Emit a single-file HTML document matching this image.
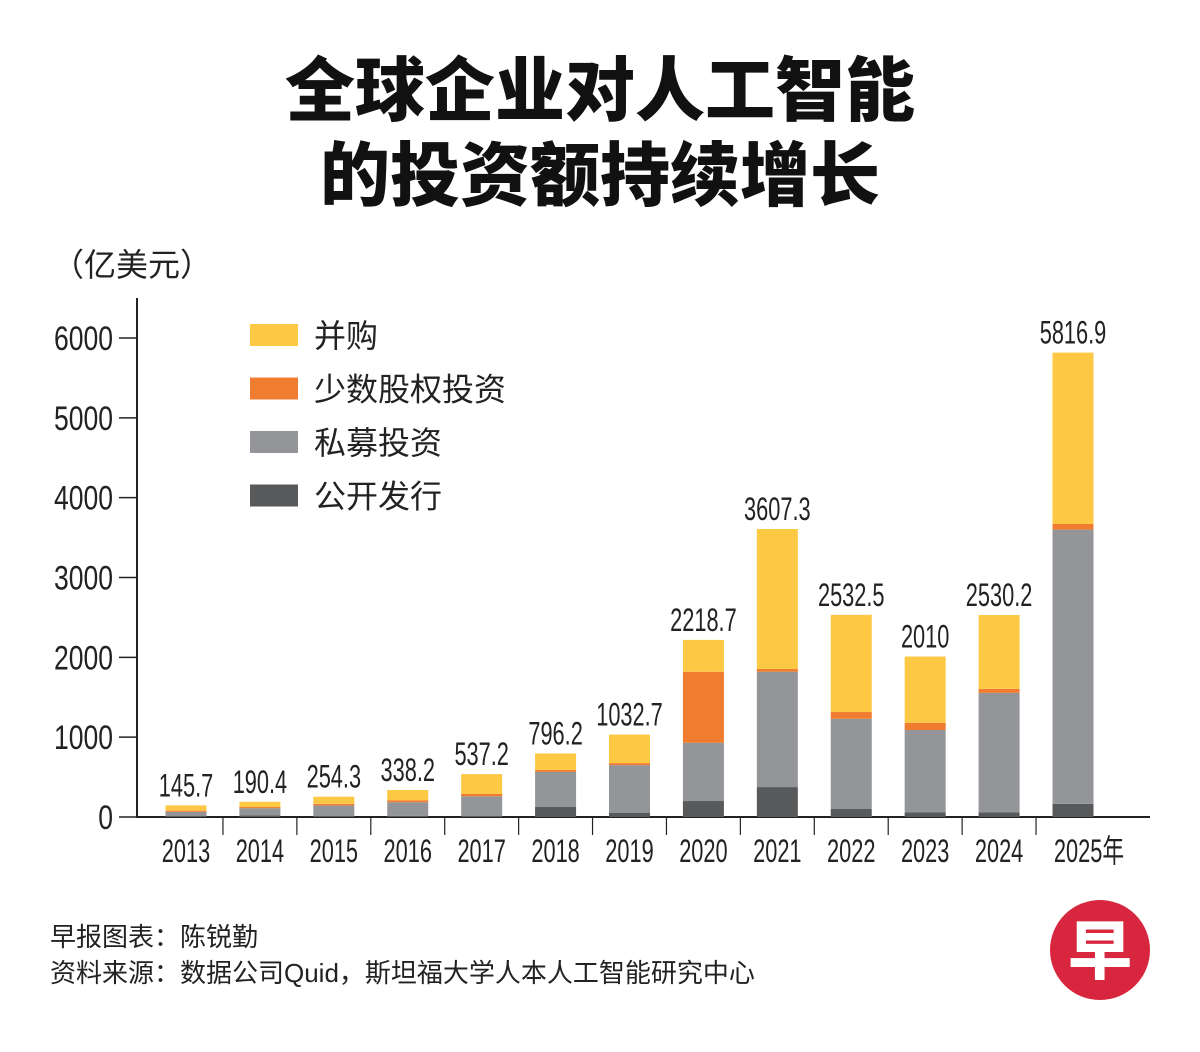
<!DOCTYPE html>
<html><head><meta charset="utf-8">
<style>
html,body{margin:0;padding:0;background:#fff;}
body{width:1200px;height:1052px;position:relative;overflow:hidden;font-family:"Liberation Sans","Noto Sans CJK SC",sans-serif;}
svg{position:absolute;left:0;top:0;}
</style></head>
<body>
<svg width="1200" height="1052" viewBox="0 0 1200 1052">
<g id="titles">
<text x="600" y="115" text-anchor="middle" font-size="70" font-weight="900" fill="#111" font-family="'Noto Sans CJK SC',sans-serif">全球企业对人工智能</text>
<text x="600" y="200" text-anchor="middle" font-size="70" font-weight="900" fill="#111" font-family="'Noto Sans CJK SC',sans-serif">的投资额持续增长</text>
<text x="52" y="276" font-size="32" fill="#222" font-family="'Noto Sans CJK SC',sans-serif">（亿美元）</text>
</g>
<g id="axes"></g>
<g id="bars"></g>
<g id="legend"></g>
<text x="50" y="946" font-size="26" fill="#222" font-family="'Noto Sans CJK SC',sans-serif">早报图表：陈锐勤</text>
<text x="50" y="982" font-size="26" fill="#222" font-family="'Liberation Sans','Noto Sans CJK SC',sans-serif">资料来源：数据公司Quid，斯坦福大学人本人工智能研究中心</text>
<g>
<circle cx="1100" cy="950" r="50" fill="#D7263D"/>
<text x="1100" y="974" text-anchor="middle" font-size="64" font-weight="900" fill="#fff" font-family="'Noto Sans CJK SC',sans-serif">早</text>
</g>
</svg>
<script>
const categories=["2013","2014","2015","2016","2017","2018","2019","2020","2021","2022","2023","2024","2025年"];
const totals=[145.7,190.4,254.3,338.2,537.2,796.2,1032.7,2218.7,3607.3,2532.5,2010,2530.2,5816.9];
const totalLabels=["145.7","190.4","254.3","338.2","537.2","796.2","1032.7","2218.7","3607.3","2532.5","2010","2530.2","5816.9"];
const publicOffering=[10,20,10,15,10,125,50,200,375,100,60,60,165];
const privateInvestment=[55,90,135,170,250,440,600,730,1445,1130,1030,1495,3435];
const minorityStake=[15,15,20,25,30,25,25,890,35,85,90,50,70];
const mergers=[65.7,65.4,89.3,128.2,247.2,206.2,357.7,398.7,1752.3,1217.5,830,925.2,2146.9];
const yTicks=[0,1000,2000,3000,4000,5000,6000];
const seriesNames=["并购","少数股权投资","私募投资","公开发行"];

const NS="http://www.w3.org/2000/svg";
const x0=186,x1=1073,baseY=817,pxPer=479/6000,bw=41;
const step=(x1-x0)/(categories.length-1);
const xs=i=>x0+i*step;
const ys=v=>baseY-v*pxPer;
function mk(tag,attrs,parent){const e=document.createElementNS(NS,tag);for(const k in attrs)e.setAttribute(k,attrs[k]);parent.appendChild(e);return e;}
const axes=document.getElementById('axes'),bars=document.getElementById('bars'),legend=document.getElementById('legend');
const narrow="'Liberation Sans',sans-serif";
let ya=mk('line',{x1:137,y1:298,x2:137,y2:818,stroke:'#222','stroke-width':2},axes);


yTicks.forEach(t=>{
  const y=ys(t);
  let l=mk('line',{x1:119,y1:y,x2:137,y2:y,stroke:'#222','stroke-width':1.5},axes);
  
  
  let tx=mk('text',{transform:`translate(113,${y+12}) scale(0.78,1)`,'text-anchor':'end','font-size':34,fill:'#222','font-family':narrow},axes);
  tx.textContent=t;
  
  
});
let xa=mk('line',{x1:136,y1:baseY,x2:1150,y2:baseY,stroke:'#222','stroke-width':2},axes);


for(let i=0;i<categories.length-1;i++){
  const x=xs(i)+step/2;
  let l=mk('line',{x1:x,y1:baseY,x2:x,y2:835,stroke:'#222','stroke-width':1.2},axes);
  
  
}
const colors=["#FDC944","#F07C30","#939598","#58595B"];
categories.forEach((c,i)=>{
  const cx=xs(i);
  const segs=[[publicOffering[i],colors[3],'public'],[privateInvestment[i],colors[2],'private'],[minorityStake[i],colors[1],'minority'],[mergers[i],colors[0],'mergers']];
  let acc=0;
  segs.forEach(s=>{
    const yTop=ys(acc+s[0]),yB=ys(acc);
    let r=mk('rect',{x:cx-bw/2,y:yTop,width:bw,height:yB-yTop,fill:s[1]},bars);
    
    
    acc+=s[0];
  });
  let lt=mk('text',{transform:`translate(${cx},${ys(totals[i])-9}) scale(0.68,1)`,'text-anchor':'middle','font-size':32,fill:'#222','font-family':narrow},bars);
  lt.textContent=totalLabels[i];
  
  
  let ct=mk('text',{transform:`translate(${cx+(i===categories.length-1?16:0)},862) scale(0.68,1)`,'text-anchor':'middle','font-size':32,fill:'#222','font-family':"'Liberation Sans','Noto Sans CJK SC',sans-serif"},bars);
  ct.textContent=c;
  
  
});
seriesNames.forEach((n,k)=>{
  const y=335+k*53.5;
  let r=mk('rect',{x:250,y:y-11,width:48,height:22,fill:colors[k]},legend);
  
  
  let t=mk('text',{x:314,y:y+12,'font-size':32,fill:'#222','font-family':"'Noto Sans CJK SC',sans-serif"},legend);
  t.textContent=n;
  
  
});
</script>
</body></html>
